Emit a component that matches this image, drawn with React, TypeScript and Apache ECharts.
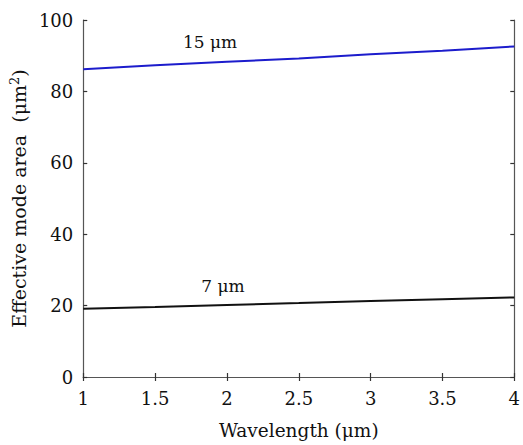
import React, { useEffect, useRef } from "react";
import * as echarts from "echarts";

const wavelengths = [1, 1.5, 2, 2.5, 3, 3.5, 4];
const area15 = [86.2, 87.3, 88.3, 89.2, 90.4, 91.4, 92.6];
const area7 = [19.1, 19.6, 20.2, 20.7, 21.3, 21.8, 22.3];
const xTicks = [1, 1.5, 2, 2.5, 3, 3.5, 4];
const yTicks = [0, 20, 40, 60, 80, 100];

const FONT = "DejaVu Serif";

export default function App() {
  const ref = useRef<HTMLDivElement>(null);
  useEffect(() => {
    if (!ref.current) return;
    const chart = echarts.init(ref.current, null, { renderer: "svg" });
    const axisLine = { show: true, lineStyle: { color: "#555", width: 1.2 } };
    const axisTick = { show: true, inside: true, length: 4, lineStyle: { color: "#333", width: 1.2 } };
    chart.setOption({
      animation: false,
      backgroundColor: "#fff",
      textStyle: { fontFamily: FONT },
      grid: { left: 83, right: 3, top: 20, bottom: 66 },
      xAxis: [
        {
          type: "value",
          min: 1,
          max: 4,
          interval: 0.5,
          position: "bottom",
          axisLine,
          axisTick,
          splitLine: { show: false },
          axisLabel: {
            color: "#111",
            fontFamily: FONT,
            fontSize: 18,
            margin: 12,
            formatter: (v: number) => (xTicks.includes(v) ? String(v) : ""),
          },
          name: "Wavelength (μm)",
          nameLocation: "middle",
          nameGap: 44,
          nameTextStyle: { color: "#111", fontFamily: FONT, fontSize: 18.5 },
        },
        {
          type: "value",
          min: 1,
          max: 4,
          interval: 0.5,
          position: "top",
          axisLine,
          axisTick,
          splitLine: { show: false },
          axisLabel: { show: false },
        },
      ],
      yAxis: [
        {
          type: "value",
          min: 0,
          max: 100,
          interval: 20,
          position: "left",
          axisLine,
          axisTick,
          splitLine: { show: false },
          axisLabel: {
            color: "#111",
            fontFamily: FONT,
            fontSize: 18,
            margin: 10,
            formatter: (v: number) => (yTicks.includes(v) ? String(v) : ""),
          },
          name: "Effective mode area  (μm{sup|2})",
          nameLocation: "middle",
          nameGap: 52,
          nameRotate: 90,
          nameTextStyle: {
            color: "#111",
            fontFamily: FONT,
            fontSize: 19,
            rich: {
              sup: { fontFamily: FONT, fontSize: 13, verticalAlign: "top", padding: [0, 0, 8, 0], color: "#111" },
            },
          },
        },
        {
          type: "value",
          min: 0,
          max: 100,
          interval: 20,
          position: "right",
          axisLine,
          axisTick,
          splitLine: { show: false },
          axisLabel: { show: false },
        },
      ],
      series: [
        {
          type: "line",
          data: wavelengths.map((x, i) => [x, area15[i]]),
          showSymbol: false,
          lineStyle: { color: "#1c1ccc", width: 2 },
          itemStyle: { color: "#1c1ccc" },
        },
        {
          type: "line",
          data: wavelengths.map((x, i) => [x, area7[i]]),
          showSymbol: false,
          lineStyle: { color: "#111", width: 2 },
          itemStyle: { color: "#111" },
        },
      ],
      graphic: [
        {
          type: "text",
          x: 210,
          y: 42,
          style: { text: "15 μm", fontFamily: FONT, fontSize: 17, fill: "#111", align: "center", verticalAlign: "middle" },
        },
        {
          type: "text",
          x: 223,
          y: 286,
          style: { text: "7 μm", fontFamily: FONT, fontSize: 17, fill: "#111", align: "center", verticalAlign: "middle" },
        },
      ],
    });
    return () => chart.dispose();
  }, []);
  return (
    <div
      ref={ref}
      style={{ position: "fixed", left: 0, top: 0, width: 523, height: 445, background: "#fff" }}
    />
  );
}
